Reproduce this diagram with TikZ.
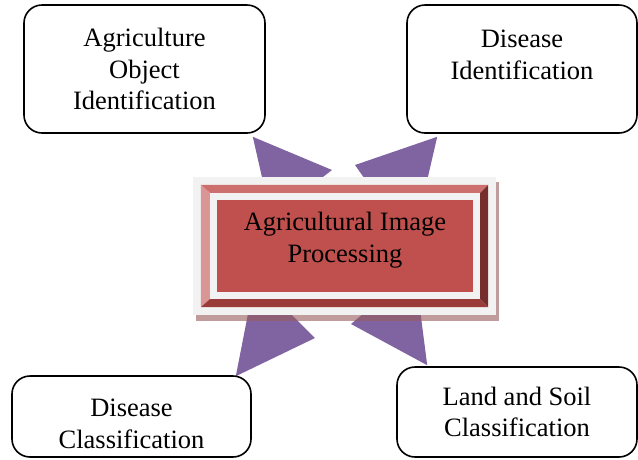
\documentclass[tikz,border=0pt]{standalone}
\usepackage{fontspec}
\setmainfont{Liberation Serif}
\usetikzlibrary{positioning,backgrounds}
\definecolor{wedgepurple}{HTML}{8064A2}
\definecolor{facered}{HTML}{C0504D}
\definecolor{framegray}{HTML}{F2F2F2}
\definecolor{beveltop}{HTML}{CD6F6C}
\definecolor{bevelleft}{HTML}{D99694}
\definecolor{bevelright}{HTML}{762E2D}
\definecolor{bevelbottom}{HTML}{9A3C3A}
\definecolor{shadowred}{HTML}{965A5A}
\tikzset{
  x=1pt, y=-1pt,
  every node/.style={font=\fontsize{26.5}{31.5}\selectfont, align=center, inner sep=0pt},
  box/.style={draw, line width=1.6pt, rounded corners=18pt, fill=white},
  face/.style={fill=facered, minimum width=256pt, minimum height=92pt},
  wedge/.style={fill=wedgepurple},
}

\begin{document}
\begin{tikzpicture}
      \useasboundingbox (0,0) rectangle (638,459);
      \node[face] (aip) at (345,246) {Agricultural Image\\Processing\\[-23.5pt]\strut};
      \node[box, minimum width=241pt, minimum height=128pt] (aoi) at (144.5,69) {Agriculture\\Object\\Identification};
      \node[box, minimum width=230pt, minimum height=128pt] (did) at (522,69) {Disease\\Identification\\[-12pt]\strut};
      \node[box, minimum width=239pt, minimum height=81pt] (dcl) at (131.5,416.5) {\strut\\[-21.5pt]Disease\\Classification};
      \node[box, minimum width=240pt, minimum height=90pt] (lsc) at (517,412) {Land and Soil\\Classification};
      \begin{scope}[on background layer]
        \fill[wedge] ([shift={(-13,3)}]aoi.south east) -- ([shift={(-13,-76)}]aip.center) -- ([shift={(-74,-29)}]aip.center) -- cycle;
        \fill[wedge] ([shift={(31,3)}]did.south west) -- ([shift={(10,-81)}]aip.center) -- ([shift={(67,0)}]aip.center) -- cycle;
        \fill[wedge] ([shift={(-16,1)}]dcl.north east) -- ([shift={(-30,92)}]aip.center) -- ([shift={(-90,32)}]aip.center) -- cycle;
        \fill[wedge] ([shift={(31,-1)}]lsc.north west) -- ([shift={(6,78)}]aip.center) -- ([shift={(70,24)}]aip.center) -- cycle;
        \fill[shadowred, opacity=0.6] ([shift={(-21,-18)}]aip.north west) rectangle ([shift={(26,29)}]aip.south east);
        \fill[framegray] ([shift={(-24,-23)}]aip.north west) rectangle ([shift={(23,23)}]aip.south east);
        \coordinate (onw) at ([shift={(-16,-15)}]aip.north west);
        \coordinate (ose) at ([shift={(15,15)}]aip.south east);
        \coordinate (inw) at ([shift={(-7,-7)}]aip.north west);
        \coordinate (ise) at ([shift={(7,7)}]aip.south east);
        \fill[beveltop] (onw) -- (onw -| ose) -- (inw -| ise) -- (inw) -- cycle;
        \fill[bevelleft] (onw) -- (onw |- ose) -- (inw |- ise) -- (inw) -- cycle;
        \fill[bevelright] (onw -| ose) -- (ose) -- (ise) -- (inw -| ise) -- cycle;
        \fill[bevelbottom] (onw |- ose) -- (ose) -- (ise) -- (inw |- ise) -- cycle;
      \end{scope}
    \end{tikzpicture}
\end{document}
